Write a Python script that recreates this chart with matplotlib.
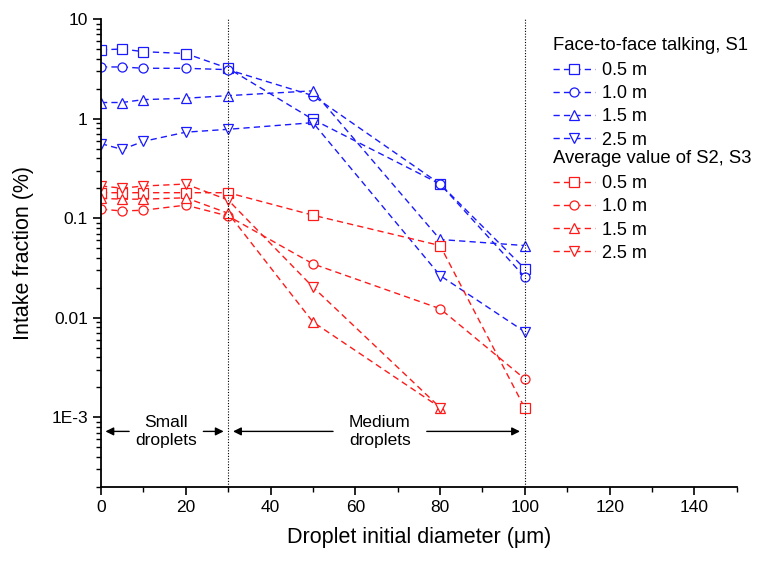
import matplotlib.pyplot as plt
import numpy as np
from matplotlib.ticker import FixedLocator, FuncFormatter, LogLocator, MultipleLocator

plt.rcParams['font.family'] = ['Liberation Sans', 'DejaVu Sans']

# droplet initial diameter (um)
diam = [0, 5, 10, 20, 30, 50, 80, 100]

# Face-to-face talking, S1 (intake fraction %)
s1_05 = [4.9, 5.0, 4.7, 4.5, 3.2, 0.98, 0.22, 0.031]
s1_10 = [3.3, 3.3, 3.2, 3.2, 3.1, 1.7, 0.22, 0.0255]
s1_15 = [1.45, 1.45, 1.55, 1.6, 1.7, 1.9, 0.061, 0.053]
s1_25 = [0.56, 0.49, 0.59, 0.73, 0.78, 0.91, 0.0265, 0.0072]

# Average value of S2, S3
s23_05 = [0.18, 0.18, 0.18, 0.18, 0.18, 0.107, 0.053, 0.00123]
s23_10 = [0.123, 0.118, 0.12, 0.135, 0.105, 0.0347, 0.0123, 0.00242]
s23_15 = [0.158, 0.155, 0.155, 0.16, 0.112, 0.00905, 0.00125, None]
s23_25 = [0.21, 0.2, 0.21, 0.22, 0.152, 0.0203, 0.00125, None]

labels = ['0.5 m', '1.0 m', '1.5 m', '2.5 m']
markers = ['s', 'o', '^', 'v']
blue = '#1a1aff'
red = '#ff1a1a'

fig = plt.figure(figsize=(7.62, 5.68), dpi=100)
ax = fig.add_axes([0.1325, 0.143, 0.8345, 0.8235])


def draw(series, color):
    handles = []
    for vals, mk, lab in zip(series, markers, labels):
        x = [d for d, v in zip(diam, vals) if v is not None]
        y = [v for v in vals if v is not None]
        h, = ax.plot(x, y, linestyle=(0, (4.5, 3)), color=color, lw=1.0,
                     marker=mk, markersize=6.5, markerfacecolor='white',
                     markeredgecolor=color, markeredgewidth=0.9, label=lab)
        handles.append(h)
    return handles


h1 = draw([s1_05, s1_10, s1_15, s1_25], blue)
h2 = draw([s23_05, s23_10, s23_15, s23_25], red)

ax.set_yscale('log')
ax.set_xlim(0, 150)
ax.set_ylim(2e-4, 10)

ax.spines['top'].set_visible(False)
ax.spines['right'].set_visible(False)
ax.spines['left'].set_linewidth(1.3)
ax.spines['bottom'].set_linewidth(1.3)

ax.xaxis.set_major_locator(FixedLocator([0, 20, 40, 60, 80, 100, 120, 140]))
ax.xaxis.set_minor_locator(MultipleLocator(10))
ax.yaxis.set_major_locator(FixedLocator([1e-3, 1e-2, 1e-1, 1, 10]))
ax.yaxis.set_minor_locator(LogLocator(base=10, subs=np.arange(2, 10)))


def yfmt(v, pos):
    names = {1e-3: '1E-3', 1e-2: '0.01', 1e-1: '0.1', 1: '1', 10: '10'}
    for k, s in names.items():
        if abs(v - k) < k * 1e-6:
            return s
    return ''


ax.yaxis.set_major_formatter(FuncFormatter(yfmt))
ax.yaxis.set_minor_formatter(FuncFormatter(lambda v, p: ''))
ax.tick_params(which='major', direction='out', length=6, width=1.2, labelsize=12.5)
ax.tick_params(which='minor', direction='out', length=3.5, width=1.0)

ax.set_xlabel('Droplet initial diameter (\u03bcm)', fontsize=15.5, labelpad=9)
ax.set_ylabel('Intake fraction (%)', fontsize=15.5, labelpad=12)

# region boundaries
for xv in [30, 100]:
    ax.axvline(xv, color='black', linestyle=(0, (1, 1.5)), lw=0.8)

# size-class annotations
ya = 7.2e-4
arrow = dict(arrowstyle='-|>', color='black', lw=1.0, mutation_scale=12)
ax.annotate('', xy=(0.4, ya), xytext=(7.3, ya), arrowprops=arrow)
ax.annotate('', xy=(29.6, ya), xytext=(23.5, ya), arrowprops=arrow)
ax.annotate('', xy=(30.5, ya), xytext=(55.4, ya), arrowprops=arrow)
ax.annotate('', xy=(99.5, ya), xytext=(76.2, ya), arrowprops=arrow)
ax.text(15.4, ya, 'Small\ndroplets', ha='center', va='center', fontsize=12.5, linespacing=1.3)
ax.text(65.8, ya, 'Medium\ndroplets', ha='center', va='center', fontsize=12.5, linespacing=1.3)

leg_kw = dict(frameon=False, loc='upper left', fontsize=13, title_fontsize=13.3,
              alignment='left', handlelength=2.3, handletextpad=0.4,
              borderpad=0, borderaxespad=0, labelspacing=0.34)
leg1 = ax.legend(handles=h1, title='Face-to-face talking, S1',
                 bbox_to_anchor=(0.711, 0.962), **leg_kw)
ax.add_artist(leg1)
leg2 = ax.legend(handles=h2, title='Average value of S2, S3',
                 bbox_to_anchor=(0.711, 0.72), **leg_kw)
for lg in (leg1, leg2):
    lg._legend_box.sep = 6

fig.savefig('out.png', dpi=100)
